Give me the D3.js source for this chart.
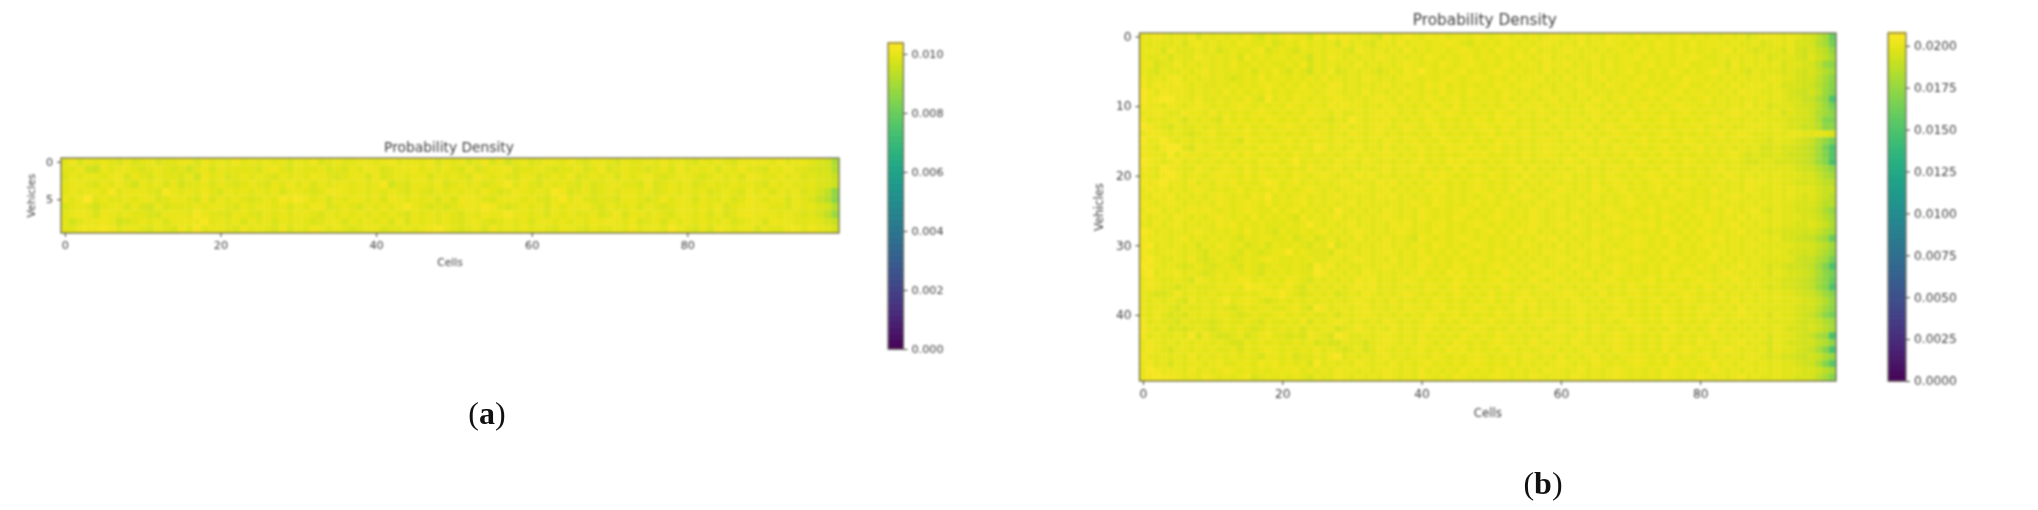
<!DOCTYPE html>
<html><head><meta charset="utf-8">
<script src="https://cdn.jsdelivr.net/npm/d3@7"></script>
<style>html,body{margin:0;padding:0;background:#fff}svg{display:block}</style>
</head><body><svg id="c" width="2038" height="510"></svg>
<script>
const title = "Probability Density", xLabel = "Cells", yLabel = "Vehicles";
const xTicks = [0, 20, 40, 60, 80];
const yTicksA = [0, 5], yTicksB = [0, 10, 20, 30, 40];
const barTicksA = [0, 0.002, 0.004, 0.006, 0.008, 0.010];
const barTicksB = [0, 0.0025, 0.005, 0.0075, 0.01, 0.0125, 0.015, 0.0175, 0.02];
const vmaxA = 0.01037, vmaxB = 0.02076;
// estimated shade levels, columns 0-95
const levelBaseA = 0.00935, levelStepA = 0.00011;
const levelBaseB = 0.0185, levelStepB = 0.00026;
const gridA = [
"5746565464 5645566475 6575656564 6574565566 5675665746 5645746356 4566575466 5465565756 5465654666 657566",
"5563265665 4565453564 6555546754 6556454657 6456675656 5474566745 5654556457 4565545647 5656465755 465755",
"4656656746 5465546375 6456565465 6576545664 7456566465 6547656546 6456574565 6465675456 6545656476 556564",
"5665465753 6564635564 6545654657 5646566565 6835466574 5656456857 5465654645 6655474565 6456556565 465655",
"5656658566 6548656575 4656565646 6545776565 6565465465 6565754576 5658745645 6566564565 6564565475 646564",
"6579565565 6645665474 6565456587 8756465665 6476565646 4776546665 6546857545 5466545756 6465564576 566465",
"4565356646 4364555656 6546566564 6577456546 5656865454 5676875456 5647566754 6556465456 6565745676 655465",
"5676476565 5446665865 5466546565 6654656565 6565465656 5465766866 5646565564 5746656546 6564645776 665654",
"5356676345 6564666785 6564656465 6545664656 5647465656 5466545656 4665656576 7657456465 6565564566 476655",
"5577787566 5465475856 6547565474 6576565456 6455656786 5456475656 5654665465 5657566586 5464765664 655775"
];
// columns 96-99 of panel a
const edgeA = [
[0.0099,0.0098,0.0097,0.0091],[0.0098,0.0097,0.0097,0.0092],[0.0099,0.0098,0.0098,0.0095],[0.0100,0.0098,0.0098,0.0096],
[0.0099,0.0097,0.0094,0.0087],[0.0098,0.0095,0.0093,0.0086],[0.0100,0.0098,0.0097,0.0092],[0.0099,0.0097,0.0094,0.0088],
[0.0100,0.0099,0.0097,0.0095],[0.0101,0.0100,0.0099,0.0097]
];
const gridB = [
"6676565746 5656575465 6766475867 6565475676 5767566576 5675656567 6567565766 5756565675 6565656456 665654",
"6565564675 6565765564 5657565647 5654665756 6566765465 6576565676 5657566765 6565765657 5666565564 565644",
"6664755565 6456556745 6546565665 4765656575 6566567656 5765657565 6765656566 5675665756 5656756545 554643",
"6556465576 5656475656 6565365765 6565765656 5765656756 6565765675 6565675656 6756565667 6556565656 455543",
"6645575656 5657556565 5657465656 5756565676 5657656765 6576566576 6756565756 6567565675 5656475656 564554",
"6546556567 5656564657 5465365745 6565456576 8656567565 6765656575 6566575656 7565657656 5676565465 554543",
"7565775656 5654565756 6565657565 6576565676 5656765676 5657566756 5756567566 5675656576 6565656565 665543",
"7576676565 5656565676 5657565775 6565675656 5767565656 5765676565 6567565765 6756565675 5756575666 564443",
"8757666565 6575656575 6566656765 6575656576 5657565765 6576565675 6656756565 6567656756 6565657665 565432",
"8678866575 5656575485 6576565676 5656765756 5765675656 6575656567 5656576567 5656576565 6756565656 565442",
"7665765676 5656765656 5765665767 6656576565 6576575665 6567566756 6565765756 5675656766 5656565756 455543",
"6676557665 7565656765 6565766575 5656767565 6756765656 5765665765 6565676565 7566565675 6565676565 564544",
"7565664656 5475656576 5657565465 8656675656 5765656576 5767565657 6566575657 6565675656 5676565656 555443",
"8765465565 6566575656 6765656567 5656765676 5675656567 6576565675 6565756765 6756565666 7565655666 565442",
"6776565456 7556675665 6565676565 7656756565 6576565656 7565675656 5767565676 6565676565 6567567655 565665",
"8668656565 6565476565 6757566576 5656576567 5657656756 5767565676 5656757656 5675656576 5656565655 465543",
"7657885476 6565665767 5656587565 6756575656 7565767565 6756565676 6575656576 6565675656 7565656564 454432",
"7665857665 6757576565 6576565656 7565676565 7565656767 5656575676 5657656565 7656576565 6565675454 454332",
"8765675656 6565665767 5685656576 6576565656 7565767565 6567565656 5765675656 5765656576 5656565445 544432",
"7658765576 5676575656 6565765675 6565675667 5656575676 5656757565 6567565676 5656576565 6567565565 555543",
"6657875665 6766575765 6576567656 5767565656 5767656565 7656575656 6756565765 6567657565 6565765656 565554",
"7678665756 5767565687 5675656567 6565767565 6576565676 5656756576 5656575676 5656765676 5656565766 565544",
"6767565676 5656756567 5656765656 6765675656 5767565676 5657565656 7656576567 5656757565 6576565765 565655",
"6576756565 6765657685 6567565675 6565767565 6576565656 7565676567 6565675656 7565656765 6565676565 565654",
"7656765656 5765676575 6567565656 7565656567 6576565675 6576565765 6567565656 7656576565 6576565656 565544",
"6775656767 6565676557 5675656586 5656576565 7656567656 5765657656 7565656765 6567565656 7565765675 465544",
"7566576565 6765657565 6547565675 6565676565 7656576565 6765657656 6576565676 5656576565 6765657566 565554",
"6575675656 5767565655 5656865656 7565657675 6567565676 5656567656 7656576565 6767565656 5765675656 565544",
"8756565676 5656575654 6556567565 6765656765 6576565656 7565767565 6576565676 5656576565 7656567565 454443",
"7666567565 6565465665 5645645656 5756575654 7656567656 5657565767 5656576565 6765657656 5767565656 564432",
"7856565646 5765645646 5565465845 6565675656 6576565676 5656576565 7565675656 6765657565 6756565665 555544",
"7656665654 6565465456 6856555476 6565676565 7565657656 5765656576 6567565676 5656576565 6576565656 565443",
"7865565754 5654565676 5565655665 6765657565 6756565676 5657565656 7656576565 6765657656 5675656565 555532",
"8765654565 4565465456 5565486756 5565676565 7656576565 6765657656 6576565676 5656576565 7656567565 454332",
"7856675654 5656565465 6565587565 6576565656 7565767565 6576565676 5656756576 5656575676 5656765656 465443",
"6765565476 5656775656 5765465656 5767565676 5656576565 6765657656 7565656765 6567565656 7656576565 554432",
"6765545655 5666587765 6754656565 6767565656 5765675656 6576565676 5656576565 7656567656 5765656565 454432",
"6544575655 6565565676 8654565645 6576565676 5656576565 7565675656 6765657565 6756565676 5657565656 565543",
"6565654756 5685676545 6565656565 6765657565 6576565656 7565767565 6576565676 5656756576 5656575656 565554",
"6566546556 5654565665 5675487566 5675656576 6567565676 5656757565 6567656567 5656576565 6765657565 555543",
"6575454656 5665456556 7565655646 5676565656 5765675656 5765656576 6567565676 5656576565 7656567656 465543",
"7565546555 4565565465 5657465676 5656576565 6765657656 7565656765 6567565656 7656576565 6576565656 555543",
"7656454565 4565654565 6564656645 6765657565 6756565676 5657565656 7656576565 6765657656 5675656565 565443",
"7565565847 5445645675 5454765487 5565676565 7565657656 5765656576 6567565676 5656576565 6576565656 465543",
"6765656566 5654465656 5565645446 5545676565 7656576565 6765657656 6576565676 5656576565 7656567565 465443",
"6765466565 6556465676 5656575654 5645765656 7565767565 6576565676 5656756576 5656575676 5656765656 465543",
"7656565756 5656565466 5645565785 6565675656 6576565676 5656576565 7565675656 6765657565 6756565665 454432",
"6756465665 6755665767 5656485656 5765657565 6756565676 5657565656 7656576565 6765657656 5675656656 565543",
"6876665756 5676565656 6675656576 6565676565 7565657656 5765656576 6567565676 5656576565 6576565656 565554",
"6787765657 6565674565 6565465576 5656576565 7656576565 6765657656 6576565676 5656576565 7656567565 565544"
];
// columns 96-99 of panel b, row by row
const edgeB97 = [.0188,.0186,.0190,.0193,.0188,.0190,.0188,.0186,.0188,.0182,.0186,.0184,.0184,.0186,.0200,.0182,.0180,.0180,.0178,.0186,.0190,.0192,.0194,.0194,.0192,.0190,.0192,.0194,.0190,.0184,.0190,.0188,.0184,.0180,.0182,.0180,.0178,.0186,.0190,.0188,.0184,.0190,.0192,.0182,.0188,.0182,.0190,.0184,.0192,.0188];
const edgeB98 = [.0180,.0180,.0186,.0188,.0176,.0184,.0180,.0178,.0176,.0174,.0176,.0178,.0170,.0172,.0198,.0174,.0166,.0168,.0170,.0180,.0184,.0188,.0190,.0190,.0186,.0182,.0186,.0190,.0184,.0178,.0186,.0182,.0178,.0168,.0172,.0172,.0170,.0178,.0184,.0180,.0172,.0184,.0186,.0176,.0184,.0170,.0182,.0170,.0186,.0180];
const edgeB99 = [.0160,.0165,.0175,.0180,.0172,.0178,.0172,.0170,.0168,.0150,.0165,.0172,.0168,.0172,.0195,.0165,.0150,.0152,.0148,.0172,.0180,.0185,.0190,.0185,.0185,.0175,.0180,.0182,.0178,.0160,.0178,.0175,.0165,.0150,.0165,.0160,.0150,.0170,.0175,.0172,.0165,.0178,.0180,.0148,.0172,.0150,.0175,.0155,.0180,.0170];
const edgeB96 = [.0194,.0194,.0196,.0198,.0194,.0196,.0194,.0192,.0194,.0190,.0192,.0192,.0192,.0192,.0198,.0190,.0188,.0188,.0188,.0192,.0196,.0196,.0198,.0198,.0196,.0194,.0196,.0198,.0194,.0190,.0194,.0194,.0190,.0188,.0190,.0188,.0188,.0192,.0194,.0194,.0190,.0194,.0196,.0190,.0194,.0190,.0194,.0192,.0196,.0194];

function cellsOf(rows, base, step, edge) {
  const out = [];
  rows.forEach((s, r) => {
    const d = s.replace(/ /g, "");
    d.split("").forEach((c, i) => out.push({r, c: i, v: base + (+c) * step}));
    edge(r).forEach((v, i) => out.push({r, c: 96 + i, v}));
  });
  return out;
}
const svg = d3.select("#c");
const FONT = "'DejaVu Sans',sans-serif", INK = "#404040", FRAME = "#6d6d5c";

function panel(o) {
  const g = svg.append("g").style("filter", "blur(0.8px)");
  const x = d3.scaleLinear().domain([-0.5, o.nCols - 0.5]).range([o.left, o.right]);
  const y = d3.scaleLinear().domain([-0.5, o.nRows - 0.5]).range([o.top, o.bottom]);
  const color = d3.scaleSequential(d3.interpolateViridis).domain([0, o.vmax]);
  g.selectAll("rect.cell").data(o.cells).join("rect").attr("class", "cell")
    .attr("x", d => x(d.c - 0.5)).attr("y", d => y(d.r - 0.5))
    .attr("width", x(1) - x(0) + 0.3).attr("height", y(1) - y(0) + 0.3)
    .attr("fill", d => color(d.v));
  g.append("rect").attr("x", o.left).attr("y", o.top).attr("width", o.right - o.left).attr("height", o.bottom - o.top)
    .attr("fill", "none").attr("stroke", FRAME).attr("stroke-width", 1.3);
  const style = a => {
    a.select(".domain").remove();
    a.selectAll("line").attr("stroke", INK).attr("stroke-width", 1);
    a.selectAll("text").attr("fill", INK).style("font-family", FONT).style("font-size", o.fs + "px");
  };
  g.append("g").attr("transform", `translate(0,${o.bottom})`)
    .call(d3.axisBottom(x).tickValues(xTicks).tickSize(4).tickPadding(4)).call(style);
  g.append("g").attr("transform", `translate(${o.left},0)`)
    .call(d3.axisLeft(y).tickValues(o.yTicks).tickSize(4).tickPadding(4)).call(style);
  const label = (t, tx, ty, fs, rot) => g.append("text").text(t)
    .attr("transform", `translate(${tx},${ty})${rot ? " rotate(-90)" : ""}`)
    .attr("text-anchor", "middle").attr("fill", INK).style("font-family", FONT).style("font-size", fs + "px");
  label(title, (o.left + o.right) / 2 + o.titleDx, o.top - o.titleGap, o.titleFs);
  label(xLabel, (o.left + o.right) / 2, o.xLabelY, o.fs - 0.5);
  label(yLabel, o.yLabelX, (o.top + o.bottom) / 2, o.fs - 0.5, true);
  // colorbar
  const b = d3.scaleLinear().domain([0, o.vmax]).range([o.barBottom, o.barTop]);
  const stops = d3.range(0, 256).map(i => i / 255 * o.vmax);
  const h = (o.barBottom - o.barTop) / 255;
  g.selectAll("rect.bar").data(stops).join("rect").attr("class", "bar")
    .attr("x", o.barLeft).attr("width", o.barRight - o.barLeft)
    .attr("y", d => b(d) - h).attr("height", h + 0.6).attr("fill", d => color(d));
  g.append("rect").attr("x", o.barLeft).attr("y", o.barTop).attr("width", o.barRight - o.barLeft)
    .attr("height", o.barBottom - o.barTop).attr("fill", "none").attr("stroke", FRAME).attr("stroke-width", 1.2);
  g.append("g").attr("transform", `translate(${o.barRight},0)`)
    .call(d3.axisRight(b).tickValues(o.barTicks).tickFormat(d3.format(o.barFmt)).tickSize(4).tickPadding(4)).call(style);
}

panel({left:61, right:839, top:158, bottom:233, nCols:100, nRows:10, vmax:vmaxA,
  cells: cellsOf(gridA, levelBaseA, levelStepA, r => edgeA[r]),
  yTicks:yTicksA, fs:11.2, titleFs:13.8, titleDx:-1, titleGap:6, xLabelY:266, yLabelX:35,
  barLeft:888, barRight:903.5, barTop:43, barBottom:349, barTicks:barTicksA, barFmt:".3f"});
panel({left:1139.5, right:1836, top:33, bottom:381, nCols:100, nRows:50, vmax:vmaxB,
  cells: cellsOf(gridB, levelBaseB, levelStepB, r => [edgeB96[r], edgeB97[r], edgeB98[r], edgeB99[r]]),
  yTicks:yTicksB, fs:12.2, titleFs:15.3, titleDx:-3, titleGap:8, xLabelY:417, yLabelX:1103,
  barLeft:1888, barRight:1906, barTop:33, barBottom:381, barTicks:barTicksB, barFmt:".4f"});

const cap = (txt, cx, by) => {
  const t = svg.append("text").attr("x", cx).attr("y", by).attr("text-anchor", "middle")
    .attr("fill", "#111").style("font-family", "'Liberation Serif',serif").style("font-size", "32px");
  t.append("tspan").text("(");
  t.append("tspan").text(txt).style("font-weight", "bold");
  t.append("tspan").text(")");
};
cap("a", 487, 424);
cap("b", 1543, 494);
</script></body></html>
